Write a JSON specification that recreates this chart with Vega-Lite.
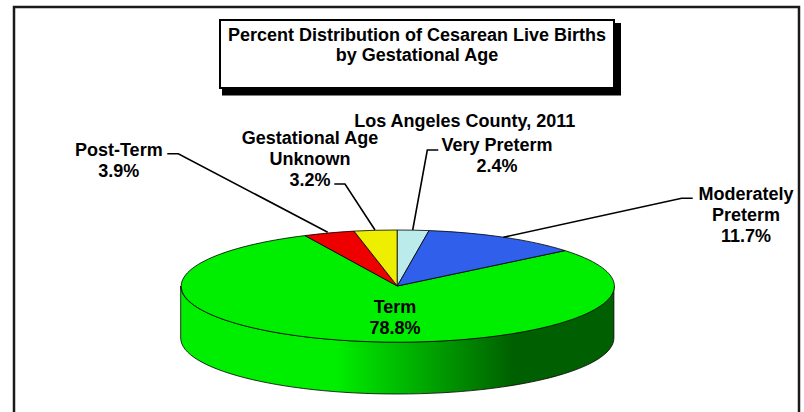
{
"$schema":"https://vega.github.io/schema/vega-lite/v6.json",
"width":804,"height":412,"padding":0,"autosize":{"type":"none"},"background":"white",
"view":{"stroke":null},
"data":{"values":[
{"slice":"Term","percent":78.8,"label":"Term\n78.8%"},
{"slice":"Post-Term","percent":3.9,"label":"Post-Term\n3.9%"},
{"slice":"Gestational Age Unknown","percent":3.2,"label":"Gestational Age\nUnknown\n3.2%"},
{"slice":"Very Preterm","percent":2.4,"label":"Very Preterm\n2.4%"},
{"slice":"Moderately Preterm","percent":11.7,"label":"Moderately\nPreterm\n11.7%"}
]},
"resolve":{"scale":{"shape":"independent","fill":"independent"}},
"layer":[
{"data":{"values":[{"element":"frame"}]},
 "mark":{"type":"point","size":4,"filled":false,"fill":"transparent","stroke":"#1a1a1a","strokeWidth":2.5,"opacity":1,"shape":"M -388 212 V -199 H 397 V 212"}},
{"data":{"values":[{"element":"title shadow"}]},
 "mark":{"type":"point","size":4,"filled":true,"fill":"#000000","stroke":null,"opacity":1,"shape":"M -180 -183 H 219 V -110.4 H -180 Z"}},
{"data":{"values":[{"element":"title box"}]},
 "mark":{"type":"point","size":4,"filled":true,"fill":"#ffffff","stroke":"#000000","strokeWidth":2,"opacity":1,"shape":"M -182 -186 H 212 V -118 H -182 Z"}},
{"data":{"values":[{"element":"pie side"}]},
 "mark":{"type":"point","size":4,"filled":true,"opacity":1,"stroke":"#000000","strokeWidth":0.8,
  "fill":{"gradient":"linear","x1":0,"y1":0,"x2":1,"y2":0,"stops":[{"offset":0,"color":"#00EE00"},{"offset":0.36,"color":"#00EE00"},{"offset":0.77,"color":"#005F00"},{"offset":1,"color":"#005F00"}]},
  "shape":"M -221.3 80 V 132 A 216.6 56 0 0 0 211.9 132 V 80 A 216.6 56 0 0 1 -221.3 80 Z"}},
{"mark":{"type":"point","size":4,"filled":true,"opacity":1,"stroke":"#000000","strokeWidth":0.8},
 "encoding":{
  "shape":{"field":"slice","type":"nominal","legend":null,"scale":{
    "domain":["Term","Post-Term","Gestational Age Unknown","Very Preterm","Moderately Preterm"],
    "range":["M -4.7 80 L 163 44.6 A 216.6 56 0 1 1 -97 29.6 Z",
             "M -4.7 80 L -97 29.6 A 216.6 56 0 0 1 -48 25.1 Z",
             "M -4.7 80 L -48 25.1 A 216.6 56 0 0 1 -4.7 24 Z",
             "M -4.7 80 L -4.7 24 A 216.6 56 0 0 1 27 24.6 Z",
             "M -4.7 80 L 27 24.6 A 216.6 56 0 0 1 163 44.6 Z"]}},
  "fill":{"field":"slice","type":"nominal","legend":null,"scale":{
    "domain":["Term","Post-Term","Gestational Age Unknown","Very Preterm","Moderately Preterm"],
    "range":["#00EE00","#EE0000","#EEEE00","#BBEBEB","#2F5FEB"]}}
 }},
{"transform":[{"filter":"datum.slice !== 'Term'"}],
 "mark":{"type":"point","size":4,"filled":false,"fill":"transparent","stroke":"#000000","strokeWidth":1.6,"opacity":1},
 "encoding":{
  "shape":{"field":"slice","type":"nominal","legend":null,"scale":{
    "domain":["Post-Term","Gestational Age Unknown","Very Preterm","Moderately Preterm"],
    "range":["M -234.7 -52.3 L -223.7 -52.3 L -74.3 26.3",
             "M -67.7 -22 L -57 -22 L -27 24",
             "M 36.3 -56 L 25.3 -56 L 10.7 24",
             "M 290.7 -7.7 L 279.7 -7.7 L 101.3 31.3"]}}
 }},
{"transform":[{"filter":"datum.slice === 'Post-Term'"}],
 "mark":{"type":"text","font":"Liberation Sans","fontWeight":"bold","fontSize":18,"align":"center","baseline":"alphabetic","lineBreak":"\n","lineHeight":21,"dx":-283.2,"dy":-50,"color":"#000000"},
 "encoding":{"text":{"field":"label"}}},
{"transform":[{"filter":"datum.slice === 'Gestational Age Unknown'"}],
 "mark":{"type":"text","font":"Liberation Sans","fontWeight":"bold","fontSize":18,"align":"center","baseline":"alphabetic","lineBreak":"\n","lineHeight":21,"dx":-92,"dy":-62,"color":"#000000"},
 "encoding":{"text":{"field":"label"}}},
{"transform":[{"filter":"datum.slice === 'Very Preterm'"}],
 "mark":{"type":"text","font":"Liberation Sans","fontWeight":"bold","fontSize":18,"align":"center","baseline":"alphabetic","lineBreak":"\n","lineHeight":21,"dx":95,"dy":-55,"color":"#000000"},
 "encoding":{"text":{"field":"label"}}},
{"transform":[{"filter":"datum.slice === 'Moderately Preterm'"}],
 "mark":{"type":"text","font":"Liberation Sans","fontWeight":"bold","fontSize":18,"align":"center","baseline":"alphabetic","lineBreak":"\n","lineHeight":21,"dx":344,"dy":-6,"color":"#000000"},
 "encoding":{"text":{"field":"label"}}},
{"transform":[{"filter":"datum.slice === 'Term'"}],
 "mark":{"type":"text","font":"Liberation Sans","fontWeight":"bold","fontSize":18,"align":"center","baseline":"alphabetic","lineBreak":"\n","lineHeight":21,"dx":-7,"dy":106.5,"color":"#000000"},
 "encoding":{"text":{"field":"label"}}},
{"data":{"values":[{"text":"Los Angeles County, 2011"}]},
 "mark":{"type":"text","font":"Liberation Sans","fontWeight":"bold","fontSize":18,"align":"center","baseline":"alphabetic","dx":62.7,"dy":-79.5,"color":"#000000"},
 "encoding":{"text":{"field":"text"}}},
{"data":{"values":[{"text":"Percent Distribution of Cesarean Live Births\nby Gestational Age"}]},
 "mark":{"type":"text","font":"Liberation Sans","fontWeight":"bold","fontSize":18,"align":"center","baseline":"alphabetic","lineBreak":"\n","lineHeight":20,"dx":15,"dy":-165,"color":"#000000"},
 "encoding":{"text":{"field":"text"}}}
]
}
